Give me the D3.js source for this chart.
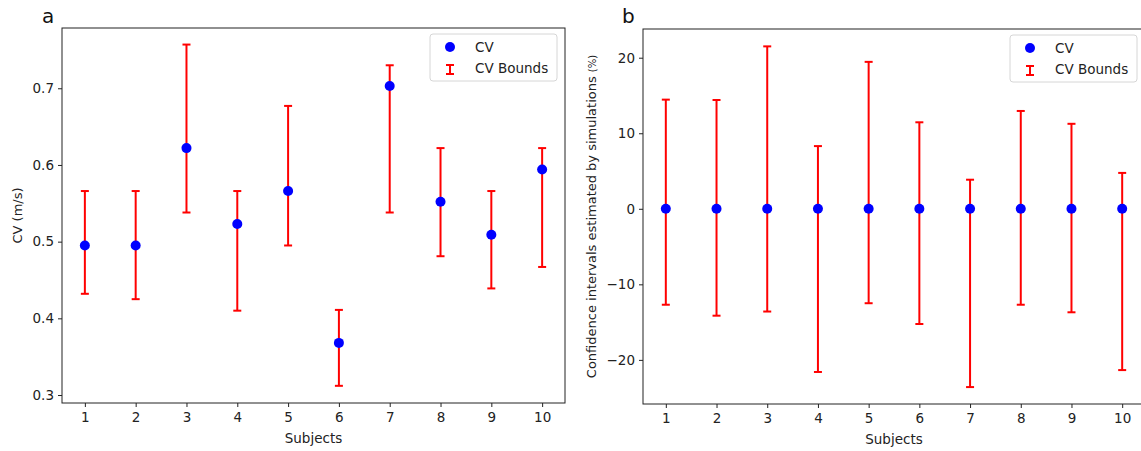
<!DOCTYPE html>
<html>
<head>
<meta charset="utf-8">
<script src="https://cdn.jsdelivr.net/npm/d3@7"></script>
<style>
  body { margin: 0; background: #fff; overflow: hidden; }
  svg { font-family: "DejaVu Sans", sans-serif; }
</style>
</head>
<body>
<svg id="chart" width="1141" height="451"></svg>
<script>
// data
var subjects = [1, 2, 3, 4, 5, 6, 7, 8, 9, 10];

var cvA     = [0.495, 0.495, 0.622, 0.523, 0.566, 0.368, 0.703, 0.552, 0.509, 0.594];
var cvLowA  = [0.432, 0.425, 0.538, 0.410, 0.495, 0.312, 0.538, 0.481, 0.439, 0.467];
var cvHighA = [0.566, 0.566, 0.757, 0.566, 0.677, 0.411, 0.730, 0.622, 0.566, 0.622];
var yTicksA = [0.3, 0.4, 0.5, 0.6, 0.7];

var cvB     = [0, 0, 0, 0, 0, 0, 0, 0, 0, 0];
var cvLowB  = [-12.7, -14.15, -13.6, -21.6, -12.5, -15.25, -23.6, -12.7, -13.7, -21.35];
var cvHighB = [14.45, 14.4, 21.5, 8.3, 19.45, 11.45, 3.85, 12.95, 11.25, 4.75];
var yTicksB = [-20, -10, 0, 10, 20];

var svg = d3.select("#chart");

function style_axis(a) {
  a.select(".domain").remove();
  a.attr("font-family", "DejaVu Sans, sans-serif").attr("font-size", 13.5);
  a.selectAll(".tick text").attr("fill", "#222");
  a.selectAll(".tick line").attr("stroke", "#222");
}

function draw_panel(opt) {
  var x = d3.scaleLinear().domain([0.55, 10.45]).range([opt.left, opt.right]);
  var y = d3.scaleLinear().domain(opt.yDomain).range([opt.bottom, opt.top]);
  var g = svg.append("g");

  g.append("g")
    .attr("transform", "translate(0," + opt.bottom + ")")
    .call(d3.axisBottom(x).tickValues(subjects).tickSize(4).tickPadding(5).tickFormat(d3.format("d")))
    .call(style_axis);

  g.append("g")
    .attr("transform", "translate(" + opt.left + ",0)")
    .call(d3.axisLeft(y).tickValues(opt.yTicks).tickSize(4).tickPadding(4)
      .tickFormat(function(d){ return opt.fmt(d).replace("-", "\u2212"); }))
    .call(style_axis);

  g.append("rect")
    .attr("x", opt.left).attr("y", opt.top)
    .attr("width", opt.right - opt.left).attr("height", opt.bottom - opt.top)
    .attr("fill", "none").attr("stroke", "#222").attr("stroke-width", 1);

  // error bars
  var bars = g.selectAll(".eb").data(subjects).enter().append("g");
  bars.append("line")
    .attr("x1", function(d){ return x(d); }).attr("x2", function(d){ return x(d); })
    .attr("y1", function(d, i){ return y(opt.low[i]); })
    .attr("y2", function(d, i){ return y(opt.high[i]); })
    .attr("stroke", "red").attr("stroke-width", 2);
  [opt.low, opt.high].forEach(function(arr){
    bars.append("line")
      .attr("x1", function(d){ return x(d) - 4; }).attr("x2", function(d){ return x(d) + 4; })
      .attr("y1", function(d, i){ return y(arr[i]); })
      .attr("y2", function(d, i){ return y(arr[i]); })
      .attr("stroke", "red").attr("stroke-width", 2);
  });

  g.selectAll(".pt").data(subjects).enter().append("circle")
    .attr("cx", function(d){ return x(d); })
    .attr("cy", function(d, i){ return y(opt.cv[i]); })
    .attr("r", 5).attr("fill", "blue");

  // legend
  var lx = opt.right - 8 - 127, ly = opt.top + 6;
  var lg = g.append("g").attr("transform", "translate(" + lx + "," + ly + ")");
  lg.append("rect").attr("width", 127).attr("height", 47).attr("rx", 3)
    .attr("fill", "white").attr("fill-opacity", 0.8).attr("stroke", "#d6d6d6");
  lg.append("circle").attr("cx", 20).attr("cy", 13).attr("r", 5).attr("fill", "blue");
  lg.append("line").attr("x1", 20).attr("x2", 20).attr("y1", 31).attr("y2", 40)
    .attr("stroke", "red").attr("stroke-width", 2);
  [31, 40].forEach(function(yy){
    lg.append("line").attr("x1", 16).attr("x2", 24).attr("y1", yy).attr("y2", yy)
      .attr("stroke", "red").attr("stroke-width", 2);
  });
  lg.append("text").attr("x", 45).attr("y", 18).attr("font-size", 13.5).attr("fill", "#222").text("CV");
  lg.append("text").attr("x", 45).attr("y", 39).attr("font-size", 13.5).attr("fill", "#222").text("CV Bounds");

  // labels
  g.append("text").attr("x", (opt.left + opt.right) / 2).attr("y", opt.bottom + 40)
    .attr("text-anchor", "middle").attr("font-size", 13.5).attr("fill", "#222").text("Subjects");
  var yl = g.append("text")
    .attr("transform", "translate(" + opt.yLabelX + "," + (opt.top + opt.bottom) / 2 + ") rotate(-90)")
    .attr("text-anchor", "middle").attr("font-size", 13).attr("fill", "#222").text(opt.yLabel);
  if (opt.yLabelSmall) yl.append("tspan").attr("font-size", 10).text(opt.yLabelSmall);

  g.append("text").attr("x", opt.tagX).attr("y", 23).attr("font-size", 20).attr("fill", "#111").text(opt.tag);
}

draw_panel({
  left: 62, right: 565, top: 28, bottom: 403,
  yDomain: [0.2896, 0.7786], yTicks: yTicksA, fmt: d3.format(".1f"),
  cv: cvA, low: cvLowA, high: cvHighA,
  yLabel: "CV (m/s)", yLabelX: 22, tag: "a", tagX: 42
});

draw_panel({
  left: 643, right: 1145, top: 29, bottom: 404,
  yDomain: [-25.84, 23.8], yTicks: yTicksB, fmt: d3.format("d"),
  cv: cvB, low: cvLowB, high: cvHighB,
  yLabel: "Confidence intervals estimated by simulations ", yLabelSmall: "(%)",
  yLabelX: 596, tag: "b", tagX: 622
});
</script>
</body>
</html>
